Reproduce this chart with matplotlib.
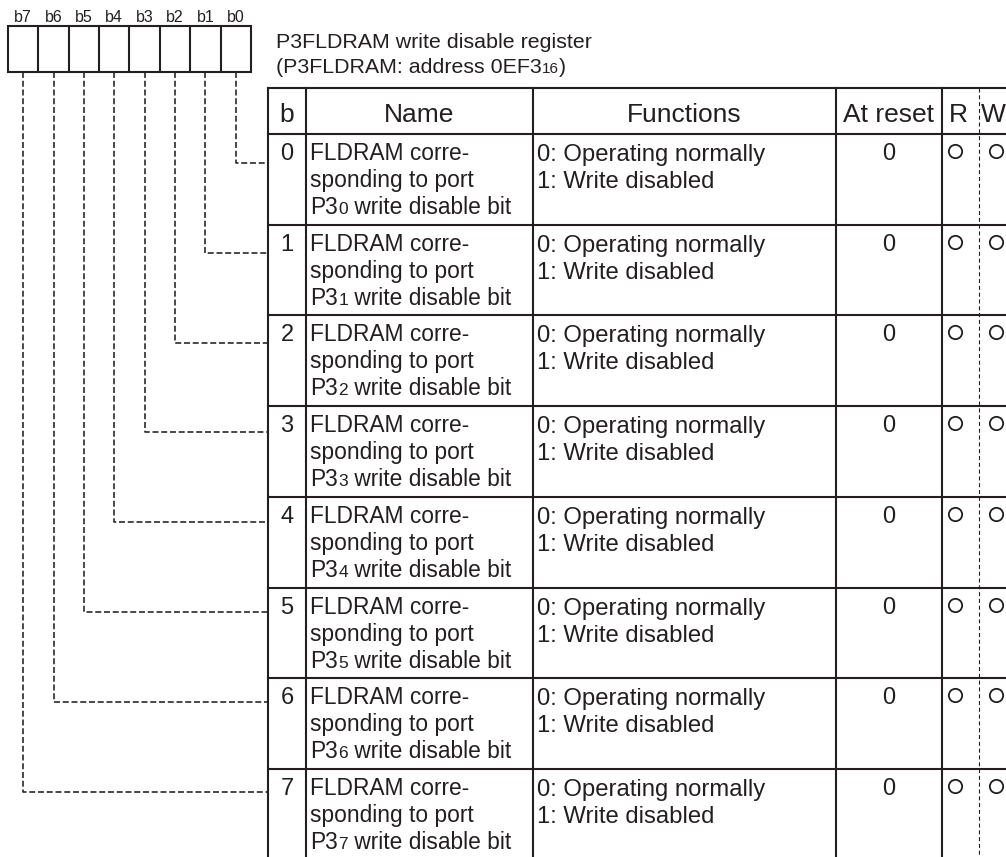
import matplotlib
matplotlib.use("Agg")
import matplotlib.pyplot as plt

plt.rcParams['font.family'] = ['Liberation Sans', 'DejaVu Sans']
plt.rcParams['lines.scale_dashes'] = False

# ---------------- data ----------------
bit_labels = ['b7', 'b6', 'b5', 'b4', 'b3', 'b2', 'b1', 'b0']
bit_numbers = ['0', '1', '2', '3', '4', '5', '6', '7']
title_line1 = "P3FLDRAM write disable register"
title_line2 = ["(P3FLDRAM: address 0EF3", "16", ")"]
headers = ['b', 'Name', 'Functions', 'At reset', 'R', 'W']
name_line1 = ["FLDRAM corre-"] * 8
name_line2 = ["sponding to port"] * 8
name_line3_prefix = ["P3"] * 8
name_line3_sub = ['0', '1', '2', '3', '4', '5', '6', '7']
name_line3_suffix = [" write disable bit"] * 8
func_line1 = ["0: Operating normally"] * 8
func_line2 = ["1: Write disabled"] * 8
reset_values = ['0'] * 8
read_access = ['○'] * 8
write_access = ['○'] * 8

# ---------------- layout ----------------
W, H = 1006, 857
INK = '#231f20'
fig = plt.figure(figsize=(W / 100, H / 100), dpi=100)
ax = fig.add_axes([0, 0, 1, 1])
ax.set_xlim(0, W)
ax.set_ylim(H, 0)
ax.axis('off')
renderer = fig.canvas.get_renderer()

box_left, box_right, box_top, box_bot = 8, 251, 26, 72
cell_w = (box_right - box_left) / 8

tbl_left = 268
col_edges = [268, 306, 533, 836, 942]
rw_split = 979
tbl_right = W + 20
hdr_top, hdr_bot = 88, 134
row_h = 90.7
conn_y0, conn_step = 163, 89.8

LW = 1.5
DASH = dict(color=INK, lw=1.15, dashes=(4.3, 2.0))


def rich(x, y, pieces, **kw):
    for s, size in pieces:
        t = ax.text(x, y, s, fontsize=size, va='baseline', ha='left', color=INK, **kw)
        bb = t.get_window_extent(renderer)
        x = ax.transData.inverted().transform((bb.x1, bb.y0))[0]


# register box
ax.add_patch(plt.Rectangle((box_left, box_top), box_right - box_left, box_bot - box_top,
                           fill=False, lw=LW, ec=INK))
for i in range(1, 8):
    xx = box_left + i * cell_w
    ax.plot([xx, xx], [box_top, box_bot], color=INK, lw=LW, solid_capstyle='butt')
for i, lab in enumerate(bit_labels):
    ax.text(box_left + (i + 0.5) * cell_w, 21.5, lab, fontsize=11.5, ha='center',
            va='baseline', color=INK)

# title
ax.text(276, 48.3, title_line1, fontsize=15.4, ha='left', va='baseline', color=INK)
rich(276, 72.5, [(title_line2[0], 15.4), (title_line2[1], 11.0), (title_line2[2], 15.4)])

# dashed connectors from bits to rows
for i, lab in enumerate(bit_labels):
    bit = 7 - i
    xc = box_left + (i + 0.5) * cell_w
    yc = conn_y0 + bit * conn_step
    ax.plot([xc, xc, tbl_left], [box_bot, yc, yc], **DASH)

# table lines
n_rows = len(bit_numbers)
row_tops = [hdr_bot + r * row_h for r in range(n_rows)]
ax.plot([tbl_left, tbl_right], [hdr_top, hdr_top], color=INK, lw=LW)
ax.plot([tbl_left, tbl_right], [hdr_bot, hdr_bot], color=INK, lw=LW)
for r in range(1, n_rows):
    ax.plot([tbl_left, tbl_right], [row_tops[r], row_tops[r]], color=INK, lw=LW)
for xe in col_edges:
    ax.plot([xe, xe], [hdr_top, H + 10], color=INK, lw=LW)
ax.plot([rw_split, rw_split], [hdr_top, H + 10], color=INK, lw=0.8, dashes=(2.9, 2.0))

# header texts
hdr_x = [(col_edges[0] + col_edges[1]) / 2, (col_edges[1] + col_edges[2]) / 2,
         (col_edges[2] + col_edges[3]) / 2, (col_edges[3] + col_edges[4]) / 2,
         (col_edges[4] + rw_split) / 2 - 2]
for hx, h in zip(hdr_x, headers[:5]):
    ax.text(hx, 122, h, fontsize=19, ha='center', va='baseline', color=INK)
ax.text(rw_split + 1.5, 122, headers[5], fontsize=19, ha='left', va='baseline', color=INK)

# rows
r_x = 955.5
w_x = 996
for r in range(n_rows):
    top = row_tops[r]
    ax.text(hdr_x[0], top + 26, bit_numbers[r], fontsize=17, ha='center', va='baseline', color=INK)
    nx = col_edges[1] + 4.5
    ax.text(nx, top + 26, name_line1[r], fontsize=16.4, ha='left', va='baseline', color=INK)
    ax.text(nx, top + 53, name_line2[r], fontsize=16.4, ha='left', va='baseline', color=INK)
    rich(nx, top + 80, [(name_line3_prefix[r], 16.4), (name_line3_sub[r], 12.5),
                        (name_line3_suffix[r], 16.4)])
    fx = col_edges[2] + 4
    ax.text(fx, top + 27, func_line1[r], fontsize=17.2, ha='left', va='baseline', color=INK)
    ax.text(fx, top + 54, func_line2[r], fontsize=17.2, ha='left', va='baseline', color=INK)
    ax.text(hdr_x[3], top + 26, reset_values[r], fontsize=17, ha='center', va='baseline', color=INK)
    if read_access[r] == '○':
        ax.plot([r_x], [top + 17], marker='o', ms=9.6, mfc='none', mec=INK, mew=1.3)
    if write_access[r] == '○':
        ax.plot([w_x], [top + 17], marker='o', ms=9.6, mfc='none', mec=INK, mew=1.3)

fig.savefig('out.png', dpi=100, facecolor='white')
